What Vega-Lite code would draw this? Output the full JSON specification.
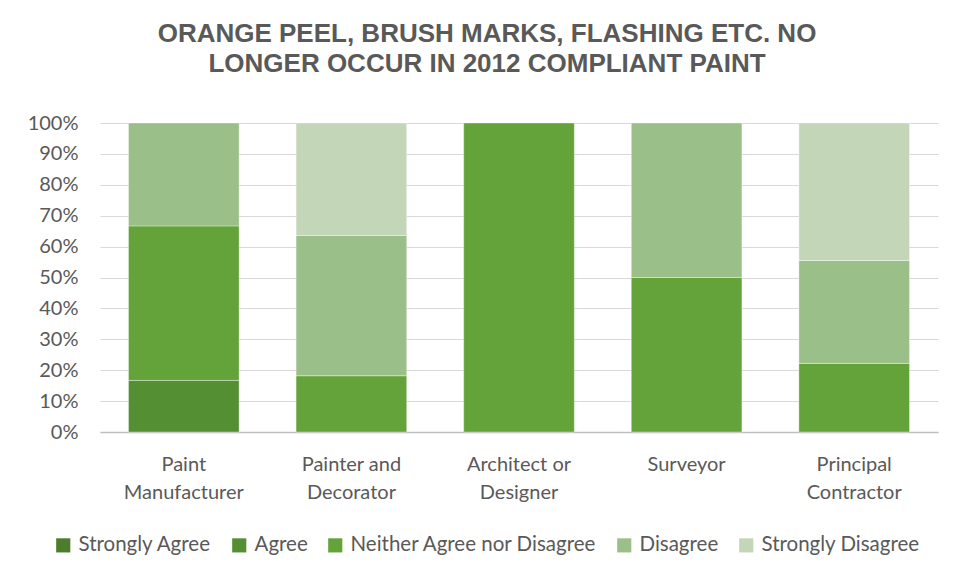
{
  "$schema": "https://vega.github.io/schema/vega-lite/v6.json",
  "autosize": {"type": "none"},
  "width": 838,
  "height": 309,
  "padding": {"left": 100, "top": 123, "right": 18, "bottom": 144},
  "background": "white",
  "title": {
    "text": ["ORANGE PEEL, BRUSH MARKS, FLASHING ETC. NO", "LONGER OCCUR IN 2012 COMPLIANT PAINT"],
    "font": "Liberation Sans",
    "fontSize": 26,
    "fontWeight": "bold",
    "color": "#595959",
    "anchor": "middle",
    "dx": -32,
    "offset": 36,
    "lineHeight": 30
  },
  "data": {
    "values": [
      {"role": "Paint Manufacturer", "response": "Agree", "pct": 16.7, "rank": 2},
      {"role": "Paint Manufacturer", "response": "Neither Agree nor Disagree", "pct": 50.0, "rank": 3},
      {"role": "Paint Manufacturer", "response": "Disagree", "pct": 33.3, "rank": 4},
      {"role": "Painter and Decorator", "response": "Neither Agree nor Disagree", "pct": 18.2, "rank": 3},
      {"role": "Painter and Decorator", "response": "Disagree", "pct": 45.4, "rank": 4},
      {"role": "Painter and Decorator", "response": "Strongly Disagree", "pct": 36.4, "rank": 5},
      {"role": "Architect or Designer", "response": "Neither Agree nor Disagree", "pct": 100.0, "rank": 3},
      {"role": "Surveyor", "response": "Neither Agree nor Disagree", "pct": 50.0, "rank": 3},
      {"role": "Surveyor", "response": "Disagree", "pct": 50.0, "rank": 4},
      {"role": "Principal Contractor", "response": "Neither Agree nor Disagree", "pct": 22.2, "rank": 3},
      {"role": "Principal Contractor", "response": "Disagree", "pct": 33.3, "rank": 4},
      {"role": "Principal Contractor", "response": "Strongly Disagree", "pct": 44.5, "rank": 5}
    ]
  },
  "mark": {"type": "bar", "stroke": "#ffffff", "strokeWidth": 0.6, "strokeOpacity": 0.6},
  "encoding": {
    "x": {
      "field": "role",
      "type": "nominal",
      "sort": ["Paint Manufacturer", "Painter and Decorator", "Architect or Designer", "Surveyor", "Principal Contractor"],
      "scale": {"paddingInner": 0.34, "paddingOuter": 0.17},
      "axis": {
        "title": null,
        "labelAngle": 0,
        "labelExpr": "indexof(datum.label, ' ') < 0 ? datum.label : [substring(datum.label, 0, lastindexof(datum.label, ' ')), substring(datum.label, lastindexof(datum.label, ' ') + 1)]",
        "labelFont": "Lato",
        "labelFontSize": 20,
        "labelColor": "#595959",
        "labelLineHeight": 28,
        "labelPadding": 22,
        "ticks": false,
        "domainColor": "#bfbfbf",
        "domainWidth": 1.5
      }
    },
    "y": {
      "field": "pct",
      "type": "quantitative",
      "stack": "zero",
      "scale": {"domain": [0, 100]},
      "axis": {
        "title": null,
        "values": [0, 10, 20, 30, 40, 50, 60, 70, 80, 90, 100],
        "labelExpr": "datum.value + '%'",
        "labelFont": "Lato",
        "labelFontSize": 20,
        "labelColor": "#595959",
        "labelPadding": 22,
        "ticks": false,
        "domain": false,
        "gridColor": "#d9d9d9",
        "gridWidth": 1
      }
    },
    "color": {
      "field": "response",
      "type": "nominal",
      "scale": {
        "domain": ["Strongly Agree", "Agree", "Neither Agree nor Disagree", "Disagree", "Strongly Disagree"],
        "range": ["#4b7d2c", "#558f33", "#63a33a", "#9bbf89", "#c3d7b8"]
      },
      "legend": {
        "title": null,
        "orient": "none",
        "direction": "horizontal",
        "legendX": -47,
        "legendY": 412,
        "symbolType": "square",
        "symbolSize": 200,
        "symbolStrokeWidth": 0,
        "labelFont": "Lato",
        "labelFontSize": 20.5,
        "labelColor": "#595959",
        "labelOffset": 5,
        "labelLimit": 400,
        "columnPadding": 17
      }
    },
    "order": {"field": "rank", "type": "quantitative"}
  },
  "config": {"view": {"stroke": null}}
}
